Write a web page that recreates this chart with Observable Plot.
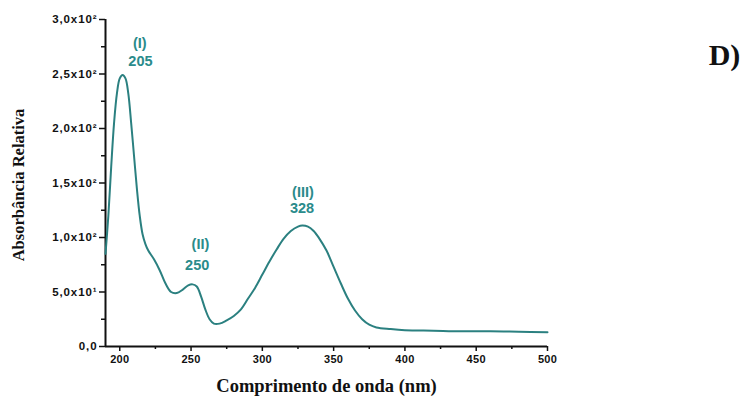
<!DOCTYPE html>
<html>
<head>
<meta charset="utf-8">
<script src="https://cdn.jsdelivr.net/npm/d3@7"></script>
<script src="https://cdn.jsdelivr.net/npm/@observablehq/plot@0.6"></script>
<style>
  html, body { margin: 0; padding: 0; background: #fff; }
  g[aria-label="y-axis tick label"] text { letter-spacing: 0.9px; }
  g[aria-label="x-axis tick label"] text { letter-spacing: 0.3px; }
</style>
</head>
<body>
<div id="chart"></div>
<script>
const wavelengths = [190,192,194,196,198,200,202,204,206,208,210,212,214,216,218,220,224,228,232,236,240,244,248,251,254,257,260,263,266,270,275,280,285,290,295,300,305,310,315,320,325,328,332,336,340,345,350,355,360,365,370,375,380,390,400,420,440,460,480,500];
const absorbance = [85,120,165,205,232,246,249,246,232,205,175,145,120,103,94,88,80,70,58,50,49,52,56,57,55,46,34,25,21,21,24,28,34,44,54,66,78,89,99,106,110,111,110,106,99,88,73,58,44,33,25,20,17.5,16,15,14.5,14,14,13.5,13];

const xTicks = [200,250,300,350,400,450,500];
const xMinorTicks = [225,275,325,375,425,475];
const yTicks = [0,50,100,150,200,250,300];
const yTickLabels = ["0,0","5,0x10¹","1,0x10²","1,5x10²","2,0x10²","2,5x10²","3,0x10²"];
const yMinorTicks = [25,75,125,175,225,275];

const annotLabels = ["(I)","205","(II)","250","(III)","328"];
const annotX = [214,214.5,256.6,254.3,328.5,327.8];
const annotY = [278,262,94,74,141,127];

const xTitle = "Comprimento de onda (nm)";
const yTitle = "Absorbância Relativa";
const panelLabel = "D)";

const data = wavelengths.map((w, i) => ({wl: w, abs: absorbance[i]}));
const annots = annotLabels.map((t, i) => ({t, x: annotX[i], y: annotY[i]}));
const yLabelMap = new Map(yTicks.map((v, i) => [v, yTickLabels[i]]));

const lineColor = "#2b8080";
const textColor = "#2a8b8b";

const chart = Plot.plot({
  width: 742,
  height: 396,
  marginLeft: 105,
  marginRight: 195,
  marginTop: 19,
  marginBottom: 50,
  x: {domain: [190, 500]},
  y: {domain: [0, 300]},
  style: {fontFamily: "'Liberation Sans', Arial, sans-serif", fontSize: "11px", fontWeight: "bold", color: "#111", background: "#fff"},
  marks: [
    Plot.axisY(yTicks, {tickSize: 6, tickPadding: 2, strokeWidth: 1.5, tickFormat: d => yLabelMap.get(d), label: null, fontSize: 11.5, fontWeight: "bold"}),
    Plot.axisY(yMinorTicks, {tickSize: 4, strokeWidth: 1.5, tickFormat: () => "", label: null}),
    Plot.axisX(xTicks, {tickSize: 5, tickPadding: 4, strokeWidth: 1.5, label: null, fontSize: 11, fontWeight: "bold"}),
    Plot.axisX(xMinorTicks, {tickSize: 3, strokeWidth: 1.5, tickFormat: () => "", label: null}),
    Plot.ruleX([190], {stroke: "#111", strokeWidth: 2}),
    Plot.ruleY([0], {stroke: "#111", strokeWidth: 2}),
    Plot.line(data, {x: "wl", y: "abs", stroke: lineColor, strokeWidth: 2, curve: "catmull-rom"}),
    Plot.text(annots, {x: "x", y: "y", text: "t", fill: textColor, fontSize: 14.5, fontWeight: "bold", fontFamily: "'Liberation Sans', Arial, sans-serif"}),
    Plot.text([yTitle], {frameAnchor: "left", dx: -87, dy: 2, rotate: -90, textAnchor: "middle", fontFamily: "'Liberation Serif', 'Times New Roman', serif", fontWeight: "bold", fontSize: 16.5, fill: "#111"}),
    Plot.text([xTitle], {frameAnchor: "bottom", dy: 45, textAnchor: "middle", fontFamily: "'Liberation Serif', 'Times New Roman', serif", fontWeight: "bold", fontSize: 18.5, fill: "#111"}),
    Plot.text([panelLabel], {frameAnchor: "top-right", dx: 177, dy: 24, textAnchor: "middle", fontFamily: "'Liberation Serif', 'Times New Roman', serif", fontWeight: "bold", fontSize: 30, fill: "#111"})
  ]
});
document.getElementById("chart").appendChild(chart);
</script>
</body>
</html>
